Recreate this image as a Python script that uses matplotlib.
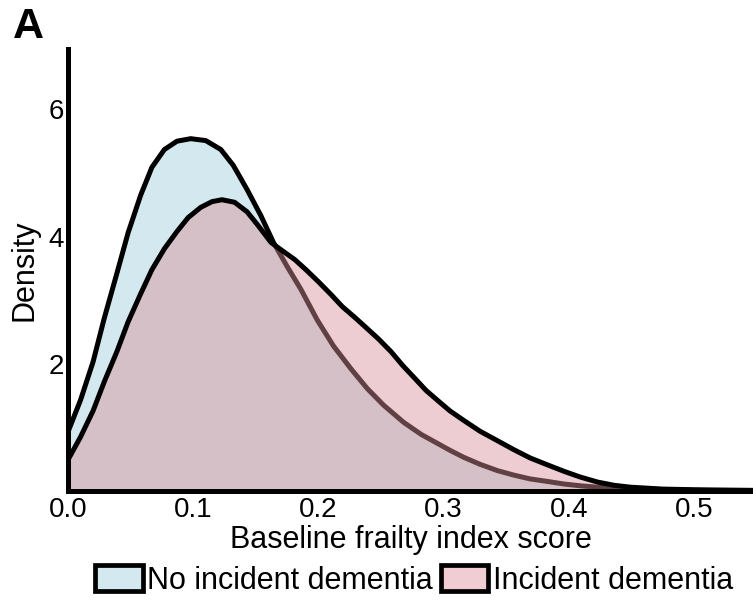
import matplotlib
matplotlib.use("Agg")
import matplotlib.pyplot as plt
from matplotlib.patches import Patch

plt.rcParams['font.family'] = ['Liberation Sans', 'DejaVu Sans']

# density curves of the baseline frailty index, by dementia outcome
x_no = [0.0, 0.010, 0.020, 0.029, 0.039, 0.048, 0.058, 0.067, 0.077, 0.087, 0.098,
        0.110, 0.122, 0.132, 0.143, 0.154, 0.164, 0.175, 0.186, 0.199, 0.212, 0.226,
        0.239, 0.252, 0.268, 0.282, 0.294, 0.305, 0.316, 0.329, 0.343, 0.356, 0.369,
        0.383, 0.396, 0.410, 0.423, 0.450, 0.500, 0.547]
y_no = [0.93, 1.43, 2.03, 2.72, 3.42, 4.06, 4.65, 5.09, 5.37, 5.50, 5.54,
        5.51, 5.37, 5.12, 4.74, 4.33, 3.91, 3.53, 3.17, 2.69, 2.28, 1.92,
        1.61, 1.35, 1.08, 0.89, 0.76, 0.64, 0.53, 0.42, 0.32, 0.25, 0.19,
        0.15, 0.11, 0.08, 0.06, 0.03, 0.01, 0.0]

x_yes = [0.0, 0.010, 0.020, 0.029, 0.039, 0.048, 0.058, 0.067, 0.077, 0.087, 0.096,
         0.106, 0.115, 0.123, 0.133, 0.143, 0.152, 0.162, 0.171, 0.181, 0.190, 0.200,
         0.210, 0.219, 0.229, 0.238, 0.248, 0.258, 0.267, 0.277, 0.286, 0.296, 0.305,
         0.316, 0.329, 0.343, 0.356, 0.369, 0.383, 0.396, 0.409, 0.423, 0.436, 0.449,
         0.475, 0.500, 0.547]
y_yes = [0.49, 0.85, 1.26, 1.72, 2.19, 2.66, 3.10, 3.48, 3.81, 4.08, 4.30,
         4.46, 4.55, 4.58, 4.54, 4.39, 4.17, 3.91, 3.78, 3.64, 3.48, 3.29,
         3.09, 2.90, 2.73, 2.57, 2.39, 2.19, 1.98, 1.77, 1.58, 1.41, 1.26,
         1.11, 0.94, 0.79, 0.65, 0.52, 0.41, 0.31, 0.22, 0.14, 0.09, 0.06,
         0.03, 0.02, 0.01]

labels = ['No incident dementia', 'Incident dementia']
xticks = [0.0, 0.1, 0.2, 0.3, 0.4, 0.5]
yticks = [2, 4, 6]

blue = '#d4e8ef'
pink = '#d99099'
pink_alpha = 0.45

fig = plt.figure(figsize=(7.53, 6.0), dpi=100)
ax = fig.add_axes([68/753, 1 - 491/600, 1 - 68/753, (491 - 49)/600])

ax.fill_between(x_no, y_no, 0, color=blue, lw=0, zorder=1)
ax.plot(x_no, y_no, color='black', lw=3.6, zorder=2, solid_joinstyle='round')
ax.fill_between(x_yes, y_yes, 0, color=pink, alpha=pink_alpha, lw=0, zorder=3)
ax.plot(x_yes, y_yes, color='black', lw=3.6, zorder=4, solid_joinstyle='round')

ax.set_xlim(0, 0.547)
ax.set_ylim(0, 6.95)
ax.set_xticks(xticks)
ax.set_xticklabels(['%.1f' % v for v in xticks])
ax.set_yticks(yticks)
ax.tick_params(length=0, labelsize=20)
ax.tick_params(axis='x', pad=4)
ax.tick_params(axis='y', pad=3)

for s in ['top', 'right']:
    ax.spines[s].set_visible(False)
for s in ['left', 'bottom']:
    ax.spines[s].set_linewidth(3.6)
    ax.spines[s].set_zorder(5)

ax.set_xlabel('Baseline frailty index score', fontsize=22, labelpad=2)
ax.set_ylabel('Density', fontsize=22)
ax.yaxis.set_label_coords(-0.041, 0.5)

handles = [Patch(facecolor=blue, edgecolor='black', lw=3.4),
           Patch(facecolor='#efcdd2', edgecolor='black', lw=3.4)]
fig.legend(handles, labels, loc='center', bbox_to_anchor=(0.55, 0.033), ncol=2,
           frameon=False, fontsize=22, handlelength=1.55, handleheight=0.95,
           handletextpad=0.15, columnspacing=0.25, borderpad=0.1)

fig.text(0.017, 0.988, 'A', fontsize=31, fontweight='bold', va='top', ha='left')

fig.savefig('out.png', dpi=100)
